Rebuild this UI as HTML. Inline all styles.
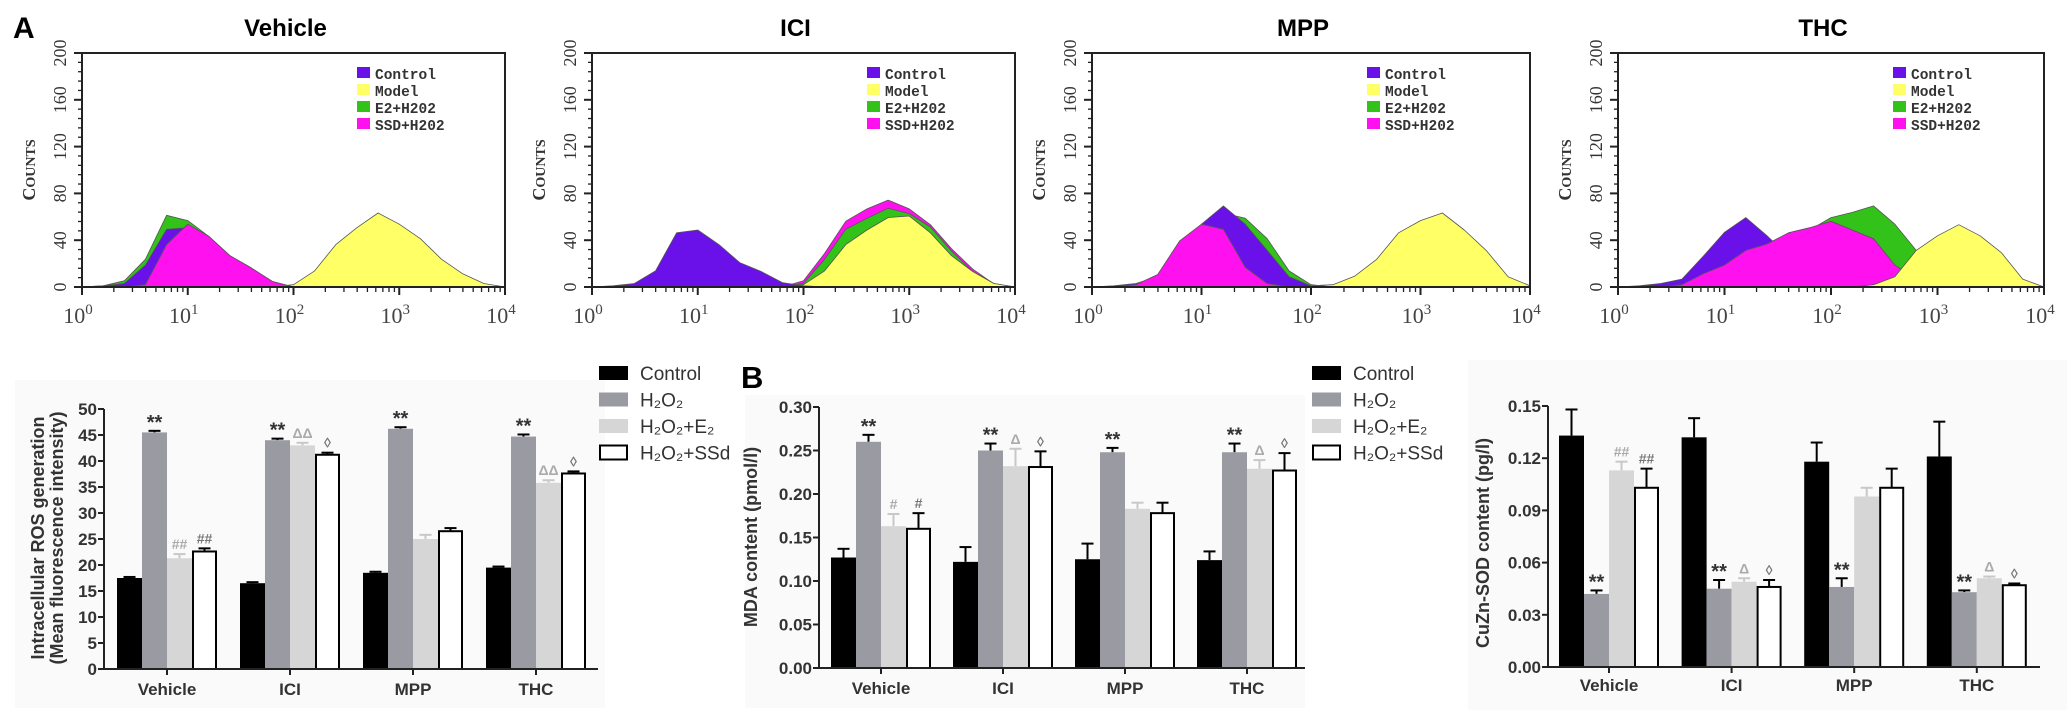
<!DOCTYPE html>
<html><head><meta charset="utf-8"><style>
html,body{margin:0;padding:0;background:#fff;}
svg{display:block;}
</style></head><body>
<svg id="fig" width="2067" height="714" xmlns="http://www.w3.org/2000/svg"></svg>
<script>
// ---------- Histogram data (counts at log10 grid) ----------
const logGrid = [0,0.2,0.4,0.6,0.8,1.0,1.2,1.4,1.6,1.8,2.0,2.2,2.4,2.6,2.8,3.0,3.2,3.4,3.6,3.8,4.0];
const histTitles = ["Vehicle","ICI","MPP","THC"];
const vehControl = [0,1,3,20,48,52,38,26,14,6,0,0,0,0,0,0,0,0,0,0,0];
const vehModel   = [0,0,0,0,0,0,0,0,0,0,2,15,35,52,62,55,40,25,10,3,0];
const vehE2      = [0,1,4,25,60,58,42,28,15,6,0,0,0,0,0,0,0,0,0,0,0];
const vehSSD     = [0,0,0,2,35,55,42,28,15,6,0,0,0,0,0,0,0,0,0,0,0];
const iciControl = [0,1,3,15,45,50,35,22,12,5,1,0,0,0,0,0,0,0,0,0,0];
const iciModel   = [0,0,0,0,0,0,0,0,0,0,2,15,35,50,58,62,45,28,12,3,0];
const iciE2      = [0,0,0,0,0,0,0,0,0,0,3,25,48,60,66,64,50,32,12,3,0];
const iciSSD     = [0,0,0,0,0,0,0,0,0,0,4,30,55,68,73,68,52,34,14,4,0];
const mppControl = [0,1,3,10,30,55,68,55,30,10,1,0,0,0,0,0,0,0,0,0,0];
const mppModel   = [0,0,0,0,0,0,0,0,0,0,1,2,8,25,45,58,62,50,30,10,1];
const mppE2      = [0,0,0,5,20,45,62,60,40,15,2,0,0,0,0,0,0,0,0,0,0];
const mppSSD     = [0,0,2,12,38,55,48,18,3,0,0,0,0,0,0,0,0,0,0,0,0];
const thcControl = [0,1,3,8,25,48,58,45,25,10,3,0,0,0,0,0,0,0,0,0,0];
const thcModel   = [0,0,0,0,0,0,0,0,0,0,0,0,2,10,30,45,52,45,28,8,0];
const thcE2      = [0,0,0,0,0,3,10,25,40,50,58,65,68,55,30,10,2,0,0,0,0];
const thcSSD     = [0,0,0,2,10,20,30,38,45,52,55,50,40,20,5,0,0,0,0,0,0];
const histYTicks = [0,40,80,120,160,200];
const xDecades = [0,1,2,3,4];

// ---------- Bar chart data ----------
const groups = ["Vehicle","ICI","MPP","THC"];
const seriesNames = ["Control","H₂O₂","H₂O₂+E₂","H₂O₂+SSd"];
// ROS
const rosControl = [17.5,16.5,18.5,19.5];
const rosH2O2    = [45.5,44.0,46.2,44.7];
const rosE2      = [21.3,43.0,25.0,35.8];
const rosSSd     = [22.6,41.2,26.5,37.6];
const rosErrC = [0.2,0.2,0.2,0.2];
const rosErrH = [0.3,0.3,0.3,0.4];
const rosErrE = [0.8,0.5,0.8,0.5];
const rosErrS = [0.6,0.4,0.6,0.4];
const rosTicks = [0,5,10,15,20,25,30,35,40,45,50];
const rosAnnE = ["##","ΔΔ","","ΔΔ"];
const rosAnnS = ["##","◊","","◊"];
// MDA
const mdaControl = [0.127,0.122,0.125,0.124];
const mdaH2O2    = [0.260,0.250,0.248,0.248];
const mdaE2      = [0.163,0.232,0.183,0.229];
const mdaSSd     = [0.160,0.231,0.178,0.227];
const mdaErrC = [0.010,0.017,0.018,0.010];
const mdaErrH = [0.008,0.008,0.005,0.010];
const mdaErrE = [0.014,0.020,0.007,0.010];
const mdaErrS = [0.018,0.018,0.012,0.020];
const mdaTicks = [0,0.05,0.10,0.15,0.20,0.25,0.30];
const mdaAnnE = ["#","Δ","","Δ"];
const mdaAnnS = ["#","◊","","◊"];
// CuZn-SOD
const sodControl = [0.133,0.132,0.118,0.121];
const sodH2O2    = [0.042,0.045,0.046,0.043];
const sodE2      = [0.113,0.049,0.098,0.051];
const sodSSd     = [0.103,0.046,0.103,0.047];
const sodErrC = [0.015,0.011,0.011,0.020];
const sodErrH = [0.002,0.005,0.005,0.001];
const sodErrE = [0.005,0.002,0.005,0.001];
const sodErrS = [0.011,0.004,0.011,0.001];
const sodTicks = [0,0.03,0.06,0.09,0.12,0.15];
const sodAnnE = ["##","Δ","","Δ"];
const sodAnnS = ["##","◊","","◊"];

const NS="http://www.w3.org/2000/svg";
const svg=document.getElementById('fig');
function mk(tag,attrs,parent,text){
  const e=document.createElementNS(NS,tag);
  for(const k in attrs) e.setAttribute(k,attrs[k]);
  if(text!==undefined) e.textContent=text;
  (parent||svg).appendChild(e);
  return e;
}

const la=mk('text',{x:13,y:38,'font-family':'Liberation Sans, sans-serif','font-weight':'bold','font-size':30},svg,'A');


const lb=mk('text',{x:741,y:388,'font-family':'Liberation Sans, sans-serif','font-weight':'bold','font-size':31},svg,'B');



// ---------- Histograms ----------
const histPanels=[
  {x0:82,x1:505,series:[['model',vehModel],['e2',vehE2],['control',vehControl],['ssd',vehSSD]]},
  {x0:592,x1:1015,series:[['ssd',iciSSD],['e2',iciE2],['model',iciModel],['control',iciControl]]},
  {x0:1092,x1:1530,series:[['model',mppModel],['e2',mppE2],['control',mppControl],['ssd',mppSSD]]},
  {x0:1618,x1:2044,series:[['e2',thcE2],['control',thcControl],['ssd',thcSSD],['model',thcModel]]}
];
const histColors={control:'#6a10e8',model:'#ffff66',e2:'#33c21a',ssd:'#ff10ee'};
const yTop=53, yBot=287;
histPanels.forEach((p,pi)=>{
  const g=mk('g',{});
  
  
  const xs=v=>p.x0+(p.x1-p.x0)*v/4;
  const ys=v=>yBot-(yBot-yTop)*v/200;
  const t=mk('text',{x:(p.x0+p.x1)/2-8,y:36,'text-anchor':'middle','font-family':'Liberation Sans, sans-serif','font-weight':'bold','font-size':24},g,histTitles[pi]);
  
  
  p.series.forEach(([key,vals])=>{
    let d='M'+xs(logGrid[0])+','+ys(0);
    vals.forEach((v,i)=>{
      const jit=(i%2?1.5:-1.5)*(v>3?1:0);
      d+=' L'+xs(logGrid[i]).toFixed(1)+','+(ys(v)+jit).toFixed(1);
    });
    d+=' L'+xs(4)+','+ys(0)+' Z';
    const a=mk('path',{d:d,fill:histColors[key],stroke:'#555','stroke-width':0.8,'stroke-linejoin':'round'},g);
    
    
  });
  mk('rect',{x:p.x0,y:yTop,width:p.x1-p.x0,height:yBot-yTop,fill:'none',stroke:'#222','stroke-width':2},g);
  for(let v=0;v<=200;v+=8){
    const major=histYTicks.includes(v);
    mk('line',{x1:p.x0-(major?8:4),x2:p.x0,y1:ys(v),y2:ys(v),stroke:'#222','stroke-width':major?2:1.3},g);
  }
  histYTicks.forEach(v=>{
    const tl=mk('text',{x:0,y:0,transform:`translate(${p.x0-16},${ys(v)}) rotate(-90)`,'text-anchor':'middle','font-family':'Liberation Serif, serif','font-size':18,fill:'#333'},g,String(v));
    
    
  });
  const cl=mk('text',{x:0,y:0,transform:`translate(${p.x0-47},${(yTop+yBot)/2}) rotate(-90)`,'text-anchor':'middle','font-family':'Liberation Serif, serif','font-weight':'bold','font-size':18,fill:'#333'},g);
  mk('tspan',{},cl,'C');
  mk('tspan',{'font-size':14},cl,'OUNTS');
  
  
  for(let dcd=0;dcd<4;dcd++){
    for(let m=1;m<10;m++){
      const xv=xs(dcd+Math.log10(m));
      mk('line',{x1:xv,x2:xv,y1:yBot,y2:yBot+(m===1?8:5),stroke:'#222','stroke-width':m===1?2:1.3},g);
    }
  }
  mk('line',{x1:xs(4),x2:xs(4),y1:yBot,y2:yBot+8,stroke:'#222','stroke-width':2},g);
  xDecades.forEach(dc=>{
    const tx=mk('text',{x:xs(dc)-4,y:yBot+36,'text-anchor':'middle','font-family':'Liberation Serif, serif','font-size':22,fill:'#444'},g);
    mk('tspan',{},tx,'10');
    mk('tspan',{dy:-9,'font-size':15},tx,String(dc));
    
    
  });
  const lg=mk('g',{},g);
  
  
  const lk=['control','model','e2','ssd'], ln=['Control','Model','E2+H202','SSD+H202'];
  lk.forEach((k,i)=>{
    const yy=67+17*i;
    mk('rect',{x:p.x0+275,y:yy,width:13,height:11,fill:histColors[k]},lg);
    const lt=mk('text',{x:p.x0+293,y:yy+12,'font-family':'Liberation Mono, monospace','font-weight':'bold','font-size':14.5,fill:'#333'},lg,ln[i]);
    
    
  });
});

// ---------- Bar charts ----------
const barFills=['#000000','#9a9ba2','#d6d6d6','#ffffff'];
const errColors=['#000','#000','#c8c8c8','#000'];
const annColors=['#333','#aaa','#777'];
function barChart(cfg){
  const g=mk('g',{});
  
  
  mk('rect',{x:cfg.bg[0],y:cfg.bg[1],width:cfg.bg[2],height:cfg.bg[3],fill:'#fafafa'},g);
  const ys=v=>cfg.y0-(cfg.y0-cfg.yTop)*v/cfg.max;
  const bw=cfg.bw;
  const gx=i=>cfg.first+i*cfg.step;
  const vals=cfg.vals, errs=cfg.errs;
  groups.forEach((gn,gi)=>{
    for(let s=0;s<4;s++){
      const v=vals[s][gi], e=errs[s][gi];
      const x=gx(gi)+s*bw;
      const topE=ys(v+e);
      mk('line',{x1:x+bw/2,x2:x+bw/2,y1:ys(v),y2:topE,stroke:errColors[s],'stroke-width':2},g);
      mk('line',{x1:x+bw/2-6,x2:x+bw/2+6,y1:topE,y2:topE,stroke:errColors[s],'stroke-width':2},g);
      const r=mk('rect',{x:x+(s===3?1:0),y:ys(v),width:bw-(s===3?2:0),height:cfg.y0-ys(v),fill:barFills[s],stroke:s===3?'#000':'none','stroke-width':2},g);
      
      
      let ann='';
      if(s===1) ann='**';
      if(s===2) ann=cfg.annE[gi];
      if(s===3) ann=cfg.annS[gi];
      if(ann){
        const at=mk('text',{x:x+bw/2,y:topE-(ann==='**'?2:5),'text-anchor':'middle','font-family':'Liberation Sans, DejaVu Sans, sans-serif','font-weight':'bold','font-size':ann==='**'?20:14,fill:annColors[s-1]},g,ann);
        
        
      }
    }
    const cx=gx(gi)+2*bw;
    mk('line',{x1:cx,x2:cx,y1:cfg.y0,y2:cfg.y0+6,stroke:'#222','stroke-width':2},g);
    const xl=mk('text',{x:cx,y:cfg.labY,'text-anchor':'middle','font-family':'Liberation Sans, sans-serif','font-weight':'bold','font-size':17,fill:'#333'},g,gn);
    
    
  });
  mk('line',{x1:cfg.x0,x2:cfg.x0,y1:cfg.yTop,y2:cfg.y0,stroke:'#222','stroke-width':2},g);
  mk('line',{x1:cfg.x0,x2:cfg.xEnd,y1:cfg.y0,y2:cfg.y0,stroke:'#222','stroke-width':2},g);
  cfg.ticks.forEach(t=>{
    mk('line',{x1:cfg.x0-6,x2:cfg.x0,y1:ys(t),y2:ys(t),stroke:'#222','stroke-width':2},g);
    const tl=mk('text',{x:cfg.x0-7,y:ys(t)+6,'text-anchor':'end','font-family':'Liberation Sans, sans-serif','font-weight':'bold','font-size':17,fill:'#333'},g,t.toFixed(cfg.dec));
    
    
  });
  cfg.title.forEach((line,i)=>{
    const tt=mk('text',{x:0,y:0,transform:`translate(${cfg.titleX+i*19},${cfg.titleY}) rotate(-90)`,'text-anchor':'middle','font-family':'Liberation Sans, sans-serif','font-weight':'bold','font-size':18,fill:'#333'},g,line);
    
    
  });
}
barChart({name:'ros-bar-chart',bg:[15,380,590,328],x0:104,xEnd:598,y0:669,yTop:409,max:50,first:117,step:123,bw:25,labY:695,
  vals:[rosControl,rosH2O2,rosE2,rosSSd],errs:[rosErrC,rosErrH,rosErrE,rosErrS],ticks:rosTicks,dec:0,annE:rosAnnE,annS:rosAnnS,
  title:['Intracellular ROS generation','(Mean fluorescence intensity)'],titleX:44,titleY:538});
barChart({name:'mda-bar-chart',bg:[745,395,560,313],x0:819,xEnd:1305,y0:668,yTop:407,max:0.30,first:831,step:122,bw:25,labY:694,
  vals:[mdaControl,mdaH2O2,mdaE2,mdaSSd],errs:[mdaErrC,mdaErrH,mdaErrE,mdaErrS],ticks:mdaTicks,dec:2,annE:mdaAnnE,annS:mdaAnnS,
  title:['MDA content (pmol/l)'],titleX:757,titleY:537});
barChart({name:'cuzn-sod-bar-chart',bg:[1468,360,599,350],x0:1548,xEnd:2040,y0:667,yTop:406,max:0.15,first:1559,step:122.6,bw:25,labY:691,
  vals:[sodControl,sodH2O2,sodE2,sodSSd],errs:[sodErrC,sodErrH,sodErrE,sodErrS],ticks:sodTicks,dec:2,annE:sodAnnE,annS:sodAnnS,
  title:['CuZn-SOD content (pg/l)'],titleX:1489,titleY:543});

// ---------- Legends ----------
function barLegend(x,name){
  const g=mk('g',{});
  
  
  seriesNames.forEach((s,i)=>{
    const y=366+26.5*i;
    mk('rect',{x:x+(i===3?1:0),y:y,width:i===3?27:29,height:14,fill:barFills[i],stroke:i===3?'#000':'none','stroke-width':2},g);
    const t=mk('text',{x:x+41,y:y+14,'font-family':'Liberation Sans, DejaVu Sans, sans-serif','font-size':19,fill:'#333'},g,s);
    
    
  });
}
barLegend(599,'legend-ros');
barLegend(1312,'legend-mda');
</script>
</body></html>
